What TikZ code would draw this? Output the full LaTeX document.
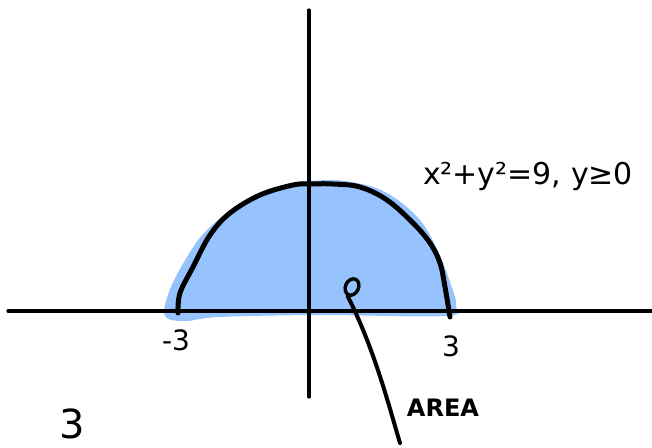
\documentclass[tikz,border=0pt]{standalone}
\usepackage{fontspec}
\setmainfont{DejaVu Sans}
\usetikzlibrary{shapes.geometric}
\definecolor{areablue}{HTML}{96C3FD}
\begin{document}
\begin{tikzpicture}[x=1pt,y=-1pt,
  axis/.style={line width=3.2pt,line cap=round},
  curve/.style={line width=5pt,line cap=round,line join=round},
  hand/.style={inner sep=0pt,font=\fontsize{28}{30}\selectfont},
  marker/.style={draw,ellipse,line width=3.4pt,minimum width=13pt,minimum height=17pt,inner sep=0pt,rotate=-25}]
\useasboundingbox (0,0) rectangle (652,447);
% shaded area
\fill[areablue] plot[smooth cycle,tension=0.6] coordinates {(165,316) (169,292) (184,262) (205,232) (240,204) (285,185) (310,181) (345,181) (385,192) (420,220) (440,256) (452,288) (456,306) (445,316) (320,315) (220,317) (185,321)};
% axes
\draw[axis] (8,311) -- (652,311);
\draw[axis] (309,10) -- (309,397);
% semicircle
\draw[curve] plot[smooth,tension=0.6] coordinates {(178,313) (180,293) (193,267) (210,235) (230,213) (260,195) (293,185) (310,184) (333,184) (360,187) (387,200) (413,223) (430,243) (440,263) (445,287) (450,317)};
% labels
\node[hand,font=\fontsize{30}{32}\selectfont] (eq) at (528,176) {x²+y²=9, y≥0};
\node[hand] (lm3) at (176,340) {-3};
\node[hand] (l3) at (451,346) {3};
\node[hand,font=\fontsize{40}{42}\selectfont] (b3) at (72,424) {3};
\node[hand,font=\fontsize{24}{26}\selectfont\bfseries] (area) at (443,408) {AREA};
% marker and pointer
\node[marker] (mark) at (352,287) {};
\coordinate (tail) at (400,443);
\draw[line width=4pt,line cap=round] (mark.south) .. controls (375,350) and (390,410) .. (tail);
\end{tikzpicture}
\end{document}
